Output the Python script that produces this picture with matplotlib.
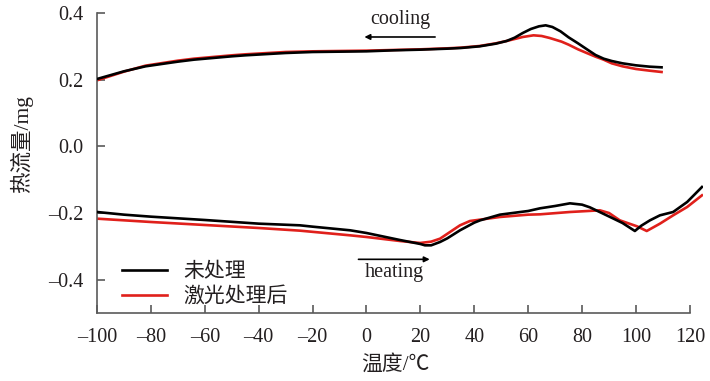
import matplotlib
matplotlib.use("Agg")
import matplotlib.pyplot as plt

plt.rcParams['font.family'] = ['Liberation Serif', 'Noto Sans CJK SC']

# DSC traces: cooling (upper) and heating (lower)
cool_x_raw = [-100, -90, -82, -70, -64, -50, -45, -30, -20, 0, 10, 20, 30, 35, 42, 48, 52, 55,
              58, 61, 64, 66.5, 69, 72, 75, 78.5, 82, 85, 88, 91, 95, 100, 105, 109.5]
cool_y_raw = [0.202, 0.225, 0.240, 0.254, 0.260, 0.270, 0.273, 0.280, 0.283, 0.285, 0.288, 0.290,
              0.293, 0.295, 0.300, 0.308, 0.316, 0.326, 0.340, 0.352, 0.360, 0.363, 0.358, 0.345,
              0.327, 0.309, 0.290, 0.274, 0.263, 0.256, 0.249, 0.243, 0.239, 0.237]

cool_x_laser = [-100, -90, -82, -70, -64, -50, -45, -30, -20, 0, 10, 20, 30, 35, 42, 48, 52, 55,
                58, 62, 65, 68, 72.4, 75, 78.5, 82, 85, 88, 91, 95, 100, 105, 109.5]
cool_y_laser = [0.198, 0.224, 0.242, 0.257, 0.263, 0.273, 0.276, 0.283, 0.285, 0.287, 0.289, 0.291,
                0.294, 0.296, 0.301, 0.309, 0.316, 0.322, 0.328, 0.333, 0.331, 0.325, 0.314, 0.305,
                0.291, 0.279, 0.269, 0.260, 0.249, 0.240, 0.232, 0.227, 0.223]

heat_x_raw = [-100, -90, -80, -60, -40, -24.7, -20, -6, 0, 12.4, 20, 21.7, 24, 27.3, 30, 34.7, 40,
              42.2, 49.5, 60, 64.4, 70, 75.5, 80, 82.9, 90.4, 95, 99.6, 102, 105.2, 108.9, 113.8,
              119, 124.5]
heat_y_raw = [-0.197, -0.205, -0.211, -0.221, -0.232, -0.237, -0.241, -0.252, -0.260, -0.281,
              -0.293, -0.297, -0.297, -0.287, -0.276, -0.252, -0.229, -0.222, -0.205, -0.194,
              -0.186, -0.179, -0.171, -0.175, -0.183, -0.212, -0.230, -0.254, -0.238, -0.222,
              -0.207, -0.197, -0.167, -0.122]

heat_x_laser = [-100, -80, -60, -40, -24.7, -6.1, 0, 12.4, 19.9, 24, 27.3, 31, 34.7, 38.4, 44,
                49.5, 60, 64.4, 75.5, 80, 86.6, 90, 94, 100.4, 104, 108.9, 113.8, 119, 124.5]
heat_y_laser = [-0.217, -0.227, -0.236, -0.245, -0.253, -0.267, -0.272, -0.284, -0.290, -0.286,
                -0.277, -0.257, -0.237, -0.224, -0.218, -0.212, -0.205, -0.204, -0.197, -0.195,
                -0.192, -0.200, -0.222, -0.240, -0.254, -0.232, -0.207, -0.182, -0.147]

labels = ['未处理', '激光处理后']
colors = ['#000000', '#e0201b']

x_ticks = [-100, -80, -60, -40, -20, 0, 20, 40, 60, 80, 100, 120]
y_ticks = [-0.4, -0.2, 0.0, 0.2, 0.4]

fig = plt.figure(figsize=(7.10, 3.81), dpi=100)
ax = fig.add_axes([0.1366, 0.1785, 0.854, 0.7874])

lw = 1.9
l1, = ax.plot(heat_x_raw, heat_y_raw, color=colors[0], lw=lw, label=labels[0], zorder=3)
l2, = ax.plot(heat_x_laser, heat_y_laser, color=colors[1], lw=lw, label=labels[1], zorder=2)
ax.plot(cool_x_laser, cool_y_laser, color=colors[1], lw=lw, zorder=2)
ax.plot(cool_x_raw, cool_y_raw, color=colors[0], lw=lw, zorder=3)

ax.set_xlim(-100, 125)
ax.set_ylim(-0.5, 0.4)
ax.set_xticks(x_ticks)
ax.set_yticks(y_ticks)
ax.set_xticklabels([f"{v}".replace('-', '\u2013') for v in x_ticks])
ax.set_yticklabels([f"{v:.1f}".replace('-', '\u2013') for v in y_ticks])

for side in ['top', 'right']:
    ax.spines[side].set_visible(False)
spine_col = '#5a5a5a'
for side in ['left', 'bottom']:
    ax.spines[side].set_color(spine_col)
    ax.spines[side].set_linewidth(1.2)
ax.spines['bottom'].set_bounds(-100, 120)
ax.tick_params(direction='in', length=6, width=1.2, color=spine_col,
               labelsize=14.5, labelcolor='#231f20')
ax.tick_params(axis='x', pad=11)
ax.tick_params(axis='y', pad=10)

ax.set_xlabel('温度/℃', fontsize=15, color='#231f20')
ax.xaxis.set_label_coords((395 - 97) / (703.4 - 97), -0.14)
ax.set_ylabel('热流量/mg', fontsize=15.5, color='#231f20')
ax.yaxis.set_label_coords(-0.106, (313 - 144) / 300)

# direction annotations
ax.annotate('', xy=(-1.8, 0.328), xytext=(26.5, 0.328),
            arrowprops=dict(arrowstyle='-|>', color='black', lw=1.2, mutation_scale=8))
ax.text(12.5, 0.381, 'cooling', fontsize=14.5, ha='center', va='center', color='#231f20')
ax.annotate('', xy=(24.5, -0.339), xytext=(-4, -0.339),
            arrowprops=dict(arrowstyle='-|>', color='black', lw=1.2, mutation_scale=8))
ax.text(10.5, -0.379, 'heating', fontsize=14.5, ha='center', va='center', color='#231f20')

leg = ax.legend(handles=[l1, l2], loc='lower left', bbox_to_anchor=(0.02, -0.022),
                frameon=False, fontsize=15, handlelength=2.2, handletextpad=0.75,
                labelspacing=0.25, borderaxespad=0.2)
for t in leg.get_texts():
    t.set_color('#231f20')

fig.savefig('out.png', dpi=100)
